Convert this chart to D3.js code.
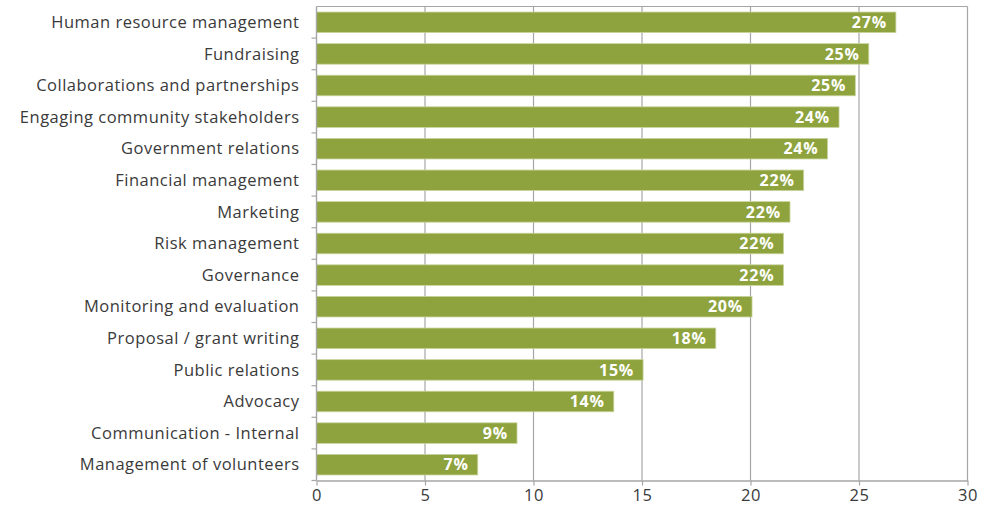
<!DOCTYPE html>
<html><head><meta charset="utf-8">
<script src="https://cdn.jsdelivr.net/npm/d3@7"></script>
<style>body{margin:0;background:#fff;}svg{display:block;}</style>
</head><body>
<svg id="c" width="993" height="508"></svg>
<script>
const categories = ["Human resource management","Fundraising","Collaborations and partnerships","Engaging community stakeholders","Government relations","Financial management","Marketing","Risk management","Governance","Monitoring and evaluation","Proposal / grant writing","Public relations","Advocacy","Communication - Internal","Management of volunteers"];
const values = [26.7,25.45,24.83,24.08,23.55,22.45,21.82,21.52,21.52,20.07,18.4,15.05,13.7,9.24,7.43];
const xTicks = [0,5,10,15,20,25,30];

const svg = d3.select("#c");
const m = {l:316.5, r:967.5, t:6.5, b:480.5};
const x = d3.scaleLinear().domain([0,30]).range([m.l,m.r]);
const y = d3.scaleBand().domain(categories).range([m.t,m.b]).paddingInner(0.35).paddingOuter(0.175);
const band = d3.scaleBand().domain(categories).range([m.t,m.b]);
const grid = "#a6a6a6";
const font = "'Open Sans', sans-serif";

svg.append("g").selectAll("line").data(xTicks.slice(1)).join("line")
  .attr("x1",d=>x(d)).attr("x2",d=>x(d)).attr("y1",m.t).attr("y2",m.b)
  .attr("stroke",grid).attr("stroke-width",1.2);
svg.append("line").attr("x1",m.l).attr("x2",m.r).attr("y1",m.t).attr("y2",m.t).attr("stroke",grid).attr("stroke-width",1.2);

svg.append("g").selectAll("rect").data(categories).join("rect")
  .attr("x",x(0)).attr("y",d=>y(d))
  .attr("width",(d,i)=>x(values[i])-x(0)).attr("height",y.bandwidth())
  .attr("fill","#8EA33E").attr("stroke","#c8d39c").attr("stroke-width",0.8);

svg.append("g").selectAll("text").data(categories).join("text")
  .attr("x",(d,i)=>x(values[i])-9).attr("y",d=>y(d)+y.bandwidth()/2)
  .attr("dy","0.36em").attr("text-anchor","end")
  .attr("fill","#fff").attr("font-family",font).attr("font-weight",700).attr("font-size",16)
  .attr("letter-spacing","0.8px")
  .text((d,i)=>Math.round(values[i])+"%");

const xa = svg.append("g").attr("transform",`translate(0,${m.b})`)
  .call(d3.axisBottom(x).tickValues(xTicks).tickSize(5).tickSizeOuter(0).tickPadding(4));
xa.select(".domain").attr("stroke",grid).attr("stroke-width",1.4);
xa.selectAll(".tick line").attr("stroke",grid).attr("stroke-width",1.2);
xa.selectAll("text").attr("fill","#3a3a3a").attr("font-family",font).attr("font-size",16.5).attr("letter-spacing","0.6px");

const ya = svg.append("g").attr("transform",`translate(${m.l},0)`);
ya.append("line").attr("x1",0).attr("x2",0).attr("y1",m.t).attr("y2",m.b).attr("stroke",grid).attr("stroke-width",1.4);
ya.selectAll(".tk").data(categories.slice(1)).join("line").attr("class","tk")
  .attr("x1",-5).attr("x2",0).attr("y1",d=>band(d)).attr("y2",d=>band(d)).attr("stroke",grid).attr("stroke-width",1.2);
ya.append("line").attr("x1",-5).attr("x2",0).attr("y1",m.b).attr("y2",m.b).attr("stroke",grid).attr("stroke-width",1.2);
ya.selectAll("text").data(categories).join("text")
  .attr("x",-17).attr("y",d=>band(d)+band.bandwidth()/2).attr("dy","0.35em")
  .attr("text-anchor","end").attr("fill","#3a3a3a").attr("font-family",font).attr("font-size",16.5)
  .attr("letter-spacing","0.5px")
  .text(d=>d);
</script>
</body></html>
